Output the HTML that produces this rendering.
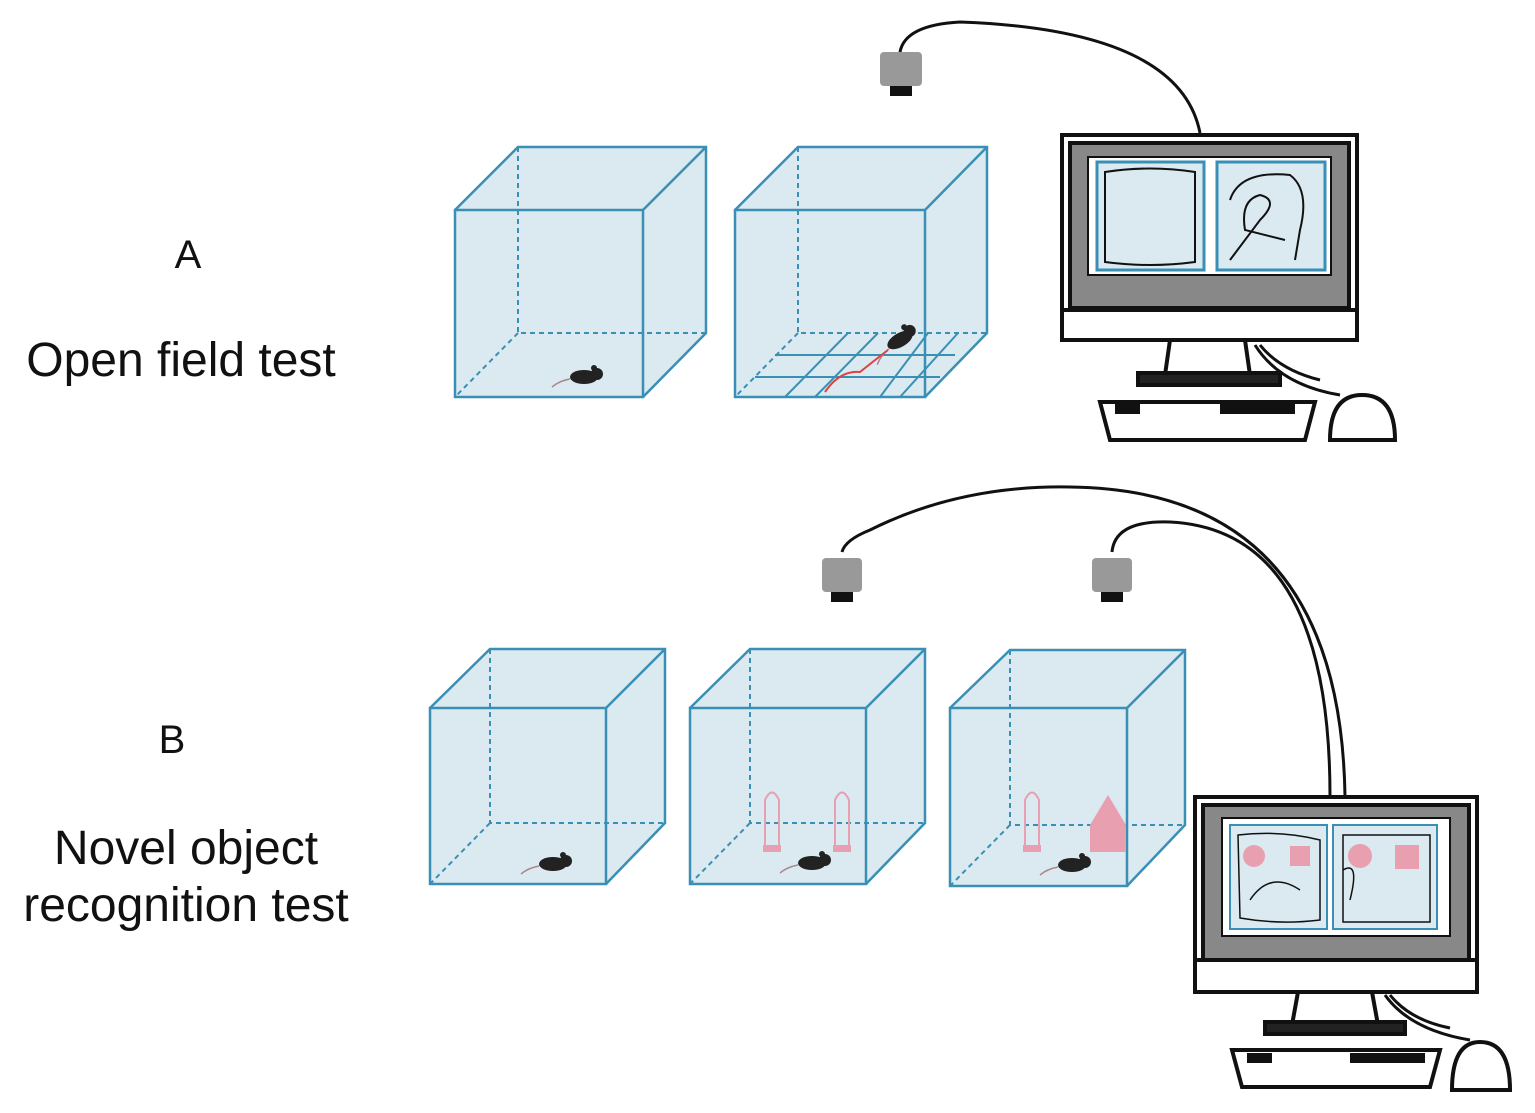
<!DOCTYPE html>
<html><head><meta charset="utf-8"><style>
html,body{margin:0;padding:0;background:#fff;}
svg{display:block;}
text{font-family:"Liberation Sans",sans-serif;fill:#111;}
</style></head><body>
<svg width="1535" height="1113" viewBox="0 0 1535 1113" xmlns="http://www.w3.org/2000/svg">
<defs>
<g id="mouse">
<ellipse cx="0" cy="0" rx="14" ry="7" fill="#222"/>
<circle cx="13" cy="-3" r="6" fill="#222"/>
<circle cx="10" cy="-9" r="3" fill="#222"/>
<path d="M-14 2 Q-25 4 -32 10" stroke="#a88" stroke-width="1.5" fill="none"/>
</g>
</defs>
<text x="188" y="268" font-size="40" text-anchor="middle">A</text>
<text x="181" y="376" font-size="48" text-anchor="middle">Open field test</text>
<text x="172" y="753" font-size="40" text-anchor="middle">B</text>
<text x="186" y="864" font-size="48" text-anchor="middle">Novel object</text>
<text x="186" y="921" font-size="48" text-anchor="middle">recognition test</text>

<g stroke="#3a8fb5" stroke-width="2.5" fill="none">
<polygon points="518,147 706,147 706,333 643,397 455,397 455,210" fill="#dbe9f0" stroke="none"/>
<path d="M518,147 V333 H706 M518,333 L455,397" stroke-dasharray="5,4" stroke-width="2"/>
<rect x="455" y="210" width="188" height="187"/>
<path d="M455,210 L518,147 H706 V333 L643,397 M643,210 L706,147"/>
<polygon points="798,147 987,147 987,333 925,397 735,397 735,210" fill="#dbe9f0" stroke="none"/>
<path d="M798,147 V333 H987 M798,333 L735,397" stroke-dasharray="5,4" stroke-width="2"/>
<path d="M775,355 H955 M755,377 H940 M848,333 L785,397 M878,333 L815,397 M928,333 L880,397 M958,333 L900,397" stroke-width="2"/>
<rect x="735" y="210" width="190" height="187"/>
<path d="M735,210 L798,147 H987 V333 L925,397 M925,210 L987,147"/>
<polygon points="490,649 665,649 665,823 606,884 430,884 430,708" fill="#dbe9f0" stroke="none"/>
<path d="M490,649 V823 H665 M490,823 L430,884" stroke-dasharray="5,4" stroke-width="2"/>
<rect x="430" y="708" width="176" height="176"/>
<path d="M430,708 L490,649 H665 V823 L606,884 M606,708 L665,649"/>
<polygon points="750,649 925,649 925,823 866,884 690,884 690,708" fill="#dbe9f0" stroke="none"/>
<path d="M750,649 V823 H925 M750,823 L690,884" stroke-dasharray="5,4" stroke-width="2"/>
<rect x="690" y="708" width="176" height="176"/>
<path d="M690,708 L750,649 H925 V823 L866,884 M866,708 L925,649"/>
<polygon points="1010,650 1185,650 1185,825 1127,886 950,886 950,708" fill="#dbe9f0" stroke="none"/>
<path d="M1010,650 V825 H1185 M1010,825 L950,886" stroke-dasharray="5,4" stroke-width="2"/>
<rect x="950" y="708" width="177" height="178"/>
<path d="M950,708 L1010,650 H1185 V825 L1127,886 M1127,708 L1185,650"/>
</g>
<use href="#mouse" x="584" y="377"/>
<use href="#mouse" x="553" y="864"/>
<use href="#mouse" x="812" y="863"/>
<use href="#mouse" x="1072" y="865"/>
<g transform="translate(900,340) rotate(-30)"><use href="#mouse"/></g>
<path d="M825,392 Q840,370 860,372 Q875,360 888,350" stroke="#e04040" stroke-width="2" fill="none"/>
<g stroke="#e8a0b0" stroke-width="2" fill="none">
<path d="M765,845 V800 Q772,785 779,800 V845"/>
<path d="M835,845 V800 Q842,785 849,800 V845"/>
<path d="M1025,845 V800 Q1032,785 1039,800 V845"/>
</g>
<rect x="763" y="845" width="18" height="7" fill="#e8a0b0"/>
<rect x="833" y="845" width="18" height="7" fill="#e8a0b0"/>
<rect x="1023" y="845" width="18" height="7" fill="#e8a0b0"/>
<path d="M1090,825 L1108,795 L1126,825 V852 H1090 Z" fill="#e8a0b0"/>

<g stroke="#111" stroke-width="3" fill="none">
<path d="M900,52 Q905,25 960,22 Q1180,30 1200,133"/>
<path d="M842,552 Q845,540 870,530 Q960,485 1070,487 Q1340,490 1345,796"/>
<path d="M1112,552 Q1115,520 1170,522 Q1330,530 1330,796"/>
</g>
<g>
<rect x="880" y="52" width="42" height="34" rx="4" fill="#999"/><rect x="890" y="86" width="22" height="10" fill="#111"/>
<rect x="822" y="558" width="40" height="34" rx="4" fill="#999"/><rect x="831" y="592" width="22" height="10" fill="#111"/>
<rect x="1092" y="558" width="40" height="34" rx="4" fill="#999"/><rect x="1101" y="592" width="22" height="10" fill="#111"/>
</g>

<g stroke="#111" stroke-width="4">
<rect x="1062" y="135" width="295" height="205" fill="#fff"/>
<rect x="1070" y="143" width="279" height="165" fill="#888"/>
<rect x="1088" y="157" width="243" height="118" fill="#fff" stroke-width="2"/>
<path d="M1062,310 H1357"/>
<path d="M1170,340 L1165,375 M1245,340 L1250,375" fill="none"/>
<rect x="1138" y="373" width="142" height="12" fill="#222"/>
<path d="M1100,402 H1315 L1305,440 H1110 Z" fill="#fff"/>
<path d="M1255,345 Q1280,385 1340,395 M1260,345 Q1280,370 1320,380" fill="none" stroke-width="3"/>
<path d="M1330,440 Q1330,395 1362,395 Q1395,395 1395,440 Z" fill="#fff"/>
</g>
<rect x="1097" y="162" width="107" height="108" fill="#dbe9f0" stroke="#3a8fb5" stroke-width="3"/>
<rect x="1217" y="162" width="108" height="108" fill="#dbe9f0" stroke="#3a8fb5" stroke-width="3"/>
<path d="M1105,172 Q1150,165 1195,172 V262 Q1150,268 1105,262 Z" stroke="#111" stroke-width="2" fill="none"/>
<path d="M1230,200 Q1240,170 1290,175 Q1310,190 1300,230 L1295,260 M1230,260 L1260,220 Q1280,200 1260,195 Q1240,200 1245,230 L1285,240" stroke="#111" stroke-width="2" fill="none"/>
<rect x="1115" y="404" width="25" height="10" fill="#111"/><rect x="1220" y="404" width="75" height="10" fill="#111"/>

<g stroke="#111" stroke-width="4">
<rect x="1195" y="797" width="282" height="195" fill="#fff"/>
<rect x="1203" y="805" width="266" height="155" fill="#888"/>
<rect x="1222" y="818" width="228" height="118" fill="#fff" stroke-width="2"/>
<path d="M1195,960 H1477"/>
<path d="M1298,992 L1292,1025 M1372,992 L1378,1025" fill="none"/>
<rect x="1265" y="1022" width="140" height="12" fill="#222"/>
<path d="M1232,1050 H1440 L1430,1087 H1242 Z" fill="#fff"/>
<path d="M1385,995 Q1410,1030 1470,1040 M1390,995 Q1410,1020 1450,1028" fill="none" stroke-width="3"/>
<path d="M1452,1090 Q1452,1042 1480,1042 Q1510,1042 1510,1090 Z" fill="#fff"/>
</g>
<rect x="1230" y="825" width="97" height="104" fill="#dbe9f0" stroke="#3a8fb5" stroke-width="2"/>
<rect x="1333" y="825" width="104" height="104" fill="#dbe9f0" stroke="#3a8fb5" stroke-width="2"/>
<circle cx="1254" cy="856" r="11" fill="#e8a0b0"/><rect x="1290" y="846" width="20" height="20" fill="#e8a0b0"/>
<circle cx="1360" cy="856" r="12" fill="#e8a0b0"/><rect x="1395" y="845" width="24" height="24" fill="#e8a0b0"/>
<path d="M1238,835 Q1280,830 1320,840 V920 Q1280,925 1240,918 Z M1250,900 Q1270,870 1300,890" stroke="#111" stroke-width="1.5" fill="none"/>
<path d="M1343,835 H1430 V922 H1343 Z M1343,870 Q1360,860 1350,900" stroke="#111" stroke-width="1.5" fill="none"/>
<rect x="1247" y="1053" width="25" height="10" fill="#111"/><rect x="1350" y="1053" width="75" height="10" fill="#111"/>
</svg>
</body></html>
